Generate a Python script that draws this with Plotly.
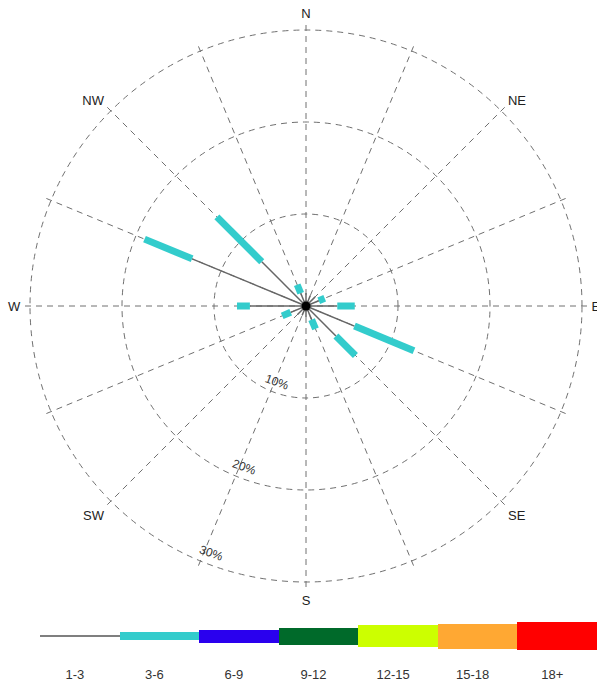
import math
import plotly.graph_objects as go

# ---- data ----
directions = [0, 22.5, 45, 67.5, 90, 112.5, 135, 157.5,
              180, 202.5, 225, 247.5, 270, 292.5, 315, 337.5]
dir_labels = ["N", "", "NE", "", "E", "", "SE", "",
              "S", "", "SW", "", "W", "", "NW", ""]
# frequency (%) of each speed class per direction
freq_1_3 = [1.4, 1.2, 1.4, 1.5, 3.4, 5.7, 4.6, 1.6,
            1.2, 1.1, 1.3, 1.8, 6.1, 13.4, 6.8, 1.5]
freq_3_6 = [0.0, 0.0, 0.0, 0.7, 1.9, 7.0, 3.0, 1.1,
            0.0, 0.0, 0.0, 1.0, 1.4, 5.6, 6.9, 1.0]
radial_ticks = [10, 20, 30]
radial_labels = ["10%", "20%", "30%"]
speed_bins = ["1-3", "3-6", "6-9", "9-12", "12-15", "15-18", "18+"]

# ---- style ----
bin_colors = ["#7f7f7f", "#33CCCC", "#2A00EE", "#006A2A", "#CCFF00", "#FFA833", "#FF0000"]
legend_heights = [2, 8, 13, 17, 22, 25, 28]
W, H = 597, 685
R_MAX = 30.6
cx, cy, r30 = 306, 306, 276
r_out = r30 * R_MAX / 30
label_bearing = 201
label_inset = 1.2
polar_dom_x = [(cx - r_out) / W, (cx + r_out) / W]
polar_dom_y = [1 - (cy + r_out) / H, 1 - (cy - r_out) / H]

fig = go.Figure()

# gray (1-3) segments
for d, a in zip(directions, freq_1_3):
    fig.add_trace(go.Scatterpolar(r=[0, a], theta=[d, d], mode="lines",
                                  line=dict(color="#666666", width=1.5),
                                  hoverinfo="skip"))
# cyan (3-6) segments
for d, a, b in zip(directions, freq_1_3, freq_3_6):
    if b > 0:
        fig.add_trace(go.Scatterpolar(r=[a, a + b], theta=[d, d], mode="lines",
                                      line=dict(color=bin_colors[1], width=7),
                                      hoverinfo="skip"))
# center dot
fig.add_trace(go.Scatterpolar(r=[0], theta=[0], mode="markers",
                              marker=dict(color="black", size=9), hoverinfo="skip"))

# legend bar (as bars on a small cartesian axis)
fig.add_trace(go.Bar(x=speed_bins, y=legend_heights,
                     base=[-h / 2 for h in legend_heights],
                     marker=dict(color=bin_colors, line=dict(width=0)),
                     width=1, xaxis="x", yaxis="y", hoverinfo="skip"))

# radial labels: annotations on hidden cartesian axes overlaying the polar area
for t, lab in zip(radial_ticks, radial_labels):
    rr = t - label_inset
    b = math.radians(label_bearing)
    fig.add_annotation(x=rr * math.sin(b), y=rr * math.cos(b), xref="x2", yref="y2",
                       text=lab, showarrow=False, textangle=20,
                       font=dict(size=12, color="#333333"))

fig.update_layout(
    width=W, height=H,
    margin=dict(l=0, r=0, t=0, b=0),
    paper_bgcolor="white", plot_bgcolor="rgba(0,0,0,0)",
    showlegend=False,
    font=dict(family="Liberation Sans, Arial, sans-serif", color="#222222", size=12),
    polar=dict(
        domain=dict(x=polar_dom_x, y=polar_dom_y),
        bgcolor="white",
        angularaxis=dict(direction="clockwise", rotation=90,
                         tickmode="array", tickvals=directions, ticktext=dir_labels,
                         showline=False, ticks="outside", ticklen=1,
                         tickcolor="rgba(0,0,0,0)", showgrid=True,
                         gridcolor="#707070", griddash="6px,5px", gridwidth=1,
                         tickfont=dict(size=13, color="#222222")),
        radialaxis=dict(range=[0, R_MAX], tickmode="array", tickvals=radial_ticks,
                        showticklabels=False, showline=False, ticks="",
                        showgrid=True, gridcolor="#707070", griddash="6px,5px",
                        gridwidth=1),
    ),
    xaxis=dict(domain=[40 / W, 1.0], range=[-0.5, 6.5], showgrid=False,
               zeroline=False, showline=False, ticks="", ticklabelshift=-5,
               tickfont=dict(size=13, color="#333333")),
    yaxis=dict(domain=[1 - 665 / H, 1 - 607 / H], range=[-29, 29], visible=False,
               showgrid=False, zeroline=False),
    xaxis2=dict(domain=polar_dom_x, range=[-R_MAX, R_MAX], visible=False,
                anchor="y2"),
    yaxis2=dict(domain=polar_dom_y, range=[-R_MAX, R_MAX], visible=False,
                anchor="x2"),
    bargap=0,
)

fig.write_html("out.html")
